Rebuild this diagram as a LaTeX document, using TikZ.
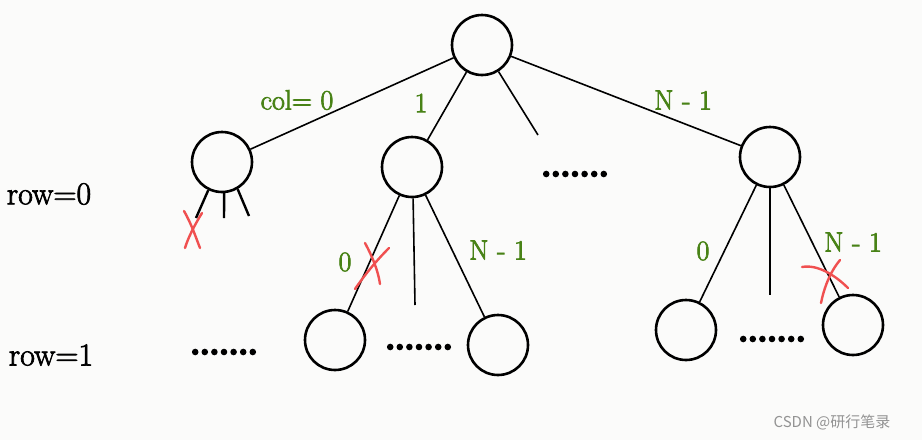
\documentclass[tikz,border=0pt]{standalone}
\usepackage{fontspec}
\newfontfamily\cjk{Noto Sans CJK SC}
\definecolor{lblgreen}{RGB}{72,130,22}
\definecolor{xred}{RGB}{240,80,80}
\definecolor{bg}{RGB}{251,251,250}
\newcommand\heavytext[1]{\special{pdf:literal 2 Tr 0.7 w}#1\special{pdf:literal 0 Tr}}
\begin{document}
\begin{tikzpicture}[x=1pt,y=-1pt,
  tnode/.style={circle,draw,line width=2.6pt,minimum size=60pt,inner sep=0pt},
  edge/.style={line width=1.6pt},
  stub/.style={line width=2.4pt},
  glabel/.style={text=lblgreen,font=\fontsize{28}{30}\selectfont,inner sep=0pt},
  rlabel/.style={font=\fontsize{32}{34}\selectfont,inner sep=0pt},
  cross/.style={xred,line width=2.4pt,line cap=round},
  dotstyle/.style={fill=black}]
\fill[bg] (0,0) rectangle (922,440);
\useasboundingbox (0,0) rectangle (922,440);
% nodes
\node[tnode] (root) at (482,45) {};
\node[tnode] (c1) at (222,162) {};
\node[tnode] (c2) at (412,167) {};
\node[tnode] (c3) at (770,157) {};
\node[tnode] (d1) at (335,340) {};
\node[tnode] (d2) at (498,345) {};
\node[tnode] (d3) at (686,330) {};
\node[tnode] (d4) at (853,325) {};
% free ends
\coordinate (rdots) at (538,135);
\coordinate (c2mid) at (415,305);
\coordinate (c3mid) at (770,295);
\coordinate (s1) at (196,218);
\coordinate (s2) at (224,218);
\coordinate (s3) at (249,216);
% edges
\draw[edge] (root) -- (c1);
\draw[edge] (root) -- (c2);
\draw[edge] (root) -- (rdots);
\draw[edge] (root) -- (c3);
\draw[edge] (c2) -- (d1);
\draw[edge] (c2.-88) -- (c2mid);
\draw[edge] (c2) -- (d2);
\draw[edge] (c3) -- (d3);
\draw[edge] (c3.-90) -- (c3mid);
\draw[edge] (c3) -- (d4);
\draw[stub] (c1.-116) -- (s1);
\draw[stub] (c1.-86) -- (s2);
\draw[stub] (c1.-60) -- (s3);
% dots
\coordinate (dt1) at (575,174);
\coordinate (dt2) at (224,352);
\coordinate (dt3) at (419,347);
\coordinate (dt4) at (772,339);
\foreach \c in {dt1,dt2,dt3,dt4}{
  \foreach \i in {0,...,6}{
    \fill[dotstyle,shift={(\c)}] (\i*9.6-28.8,0) circle (3.3);
  }
}
% labels
\node[glabel] (lcol) at (297,100) {\heavytext{col= 0}};
\node[glabel] (l1) at (421,103) {\heavytext{1}};
\node[glabel] (lN) at (683,100) {\heavytext{N - 1}};
\node[glabel] (l0a) at (345,262) {\heavytext{0}};
\node[glabel] (lNa) at (498,250) {\heavytext{N - 1}};
\node[glabel] (l0b) at (703,251) {\heavytext{0}};
\node[glabel] (lNb) at (853,242) {\heavytext{N - 1}};
\node[rlabel] (row0) at (49,194) {\heavytext{row=0}};
\node[rlabel] (row1) at (51,355) {\heavytext{row=1}};
\node[text=gray!85,font=\cjk\fontsize{15}{17}\selectfont,inner sep=0pt] (wm) at (832,422) {CSDN @研行笔录};
% red crosses
\draw[cross] (184,211) .. controls (192,225) and (196,238) .. (200,248);
\draw[cross] (202,213) .. controls (194,226) and (188,238) .. (185,248);
\draw[cross] (365,243) .. controls (372,256) and (378,270) .. (380,284);
\draw[cross] (389,248) .. controls (375,262) and (364,276) .. (355,289);
\draw[cross] (802,267) .. controls (818,264) and (836,276) .. (848,288);
\draw[cross] (840,260) .. controls (830,272) and (824,288) .. (821,303);
\end{tikzpicture}
\end{document}
